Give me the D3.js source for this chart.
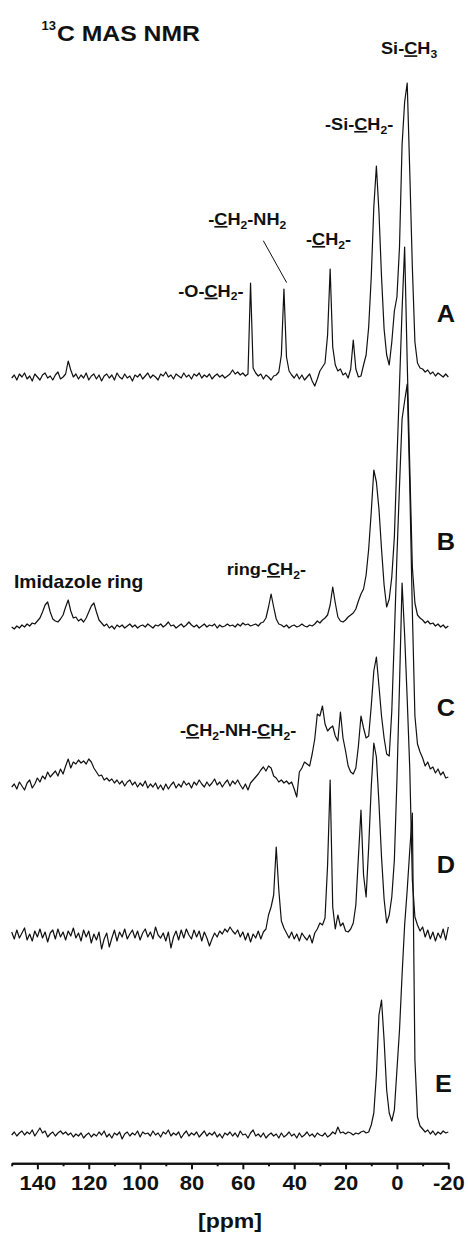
<!DOCTYPE html>
<html>
<head>
<meta charset="utf-8">
<script src="https://cdn.jsdelivr.net/npm/d3@7"></script>
<style>
  html, body { margin: 0; padding: 0; background: #fff; }
  svg { display: block; }
  text { font-family: "Liberation Sans", Arial, sans-serif; font-weight: bold; fill: #111; }
</style>
</head>
<body>
<script>
// Chemical-shift grid (ppm), 1 ppm steps from 150 down to -20
const ppm = d3.range(150, -21, -1);

// Spectrum intensities on the ppm grid (baseline = 0)
const spectrumA = [
  -1, 2, -3, 3, 0, 4, -2, 1, -4, 3,
  0, -3, 2, 4, -1, 1, -3, 2, 5, -2,
  0, 3, 16, 7, 0, 3, -2, 2, -1, 4,
  -3, 1, 3, -2, 2, -4, 1, 3, -1, 2,
  -3, 4, 0, -2, 3, -1, 1, -4, 2, 0,
  3, -2, 1, 4, -1, 2, 0, -3, 3, 1,
  5, 0, 2, -2, 3, 1, -1, 4, 0, 2,
  -2, 3, 1, 4, -1, 2, 0, 3, -2, 1,
  3, 0, 2, -1, 1, 3, 7, 3, 5, 2,
  4, 1, 3, 94, 9, 4, 1, 3, -2, 2,
  0, -3, 1, 2, 5, 22, 88, 20, 6, 2,
  -1, 3, -2, 2, -3, 0, 3, -4, -9, -2,
  6, 10, 14, 42, 108, 30, 12, 6, 8, 2,
  4, -1, 8, 37, 8, 0, 1, 12, 22, 50,
  100, 170, 211, 165, 100, 48, 22, 12, 35, 66,
  80, 130, 232, 275, 294, 205, 110, 35, 14, 9,
  8, 5, 7, 3, 5, 1, 4, 2, 0, 3,
  0
];
const spectrumB = [
  0, -2, 1, -1, 2, 0, 3, 1, 4, 3,
  6, 9, 15, 22, 25, 15, 8, 6, 5, 8,
  12, 20, 27, 16, 9, 10, 6, 8, 5, 9,
  15, 21, 24, 15, 7, 4, 1, 3, -1, 1,
  -2, 2, 0, 2, -1, 1, 3, 0, 2, -1,
  1, 2, 0, 3, 1, -1, 2, 1, 3, 0,
  2, 5, 1, 2, -1, 1, 3, 0, 2, 5,
  2, 0, 2, -1, 1, 3, 0, 2, 1, 3,
  -1, 2, 0, 1, 3, 1, 2, 0, 3, 1,
  4, 2, 3, 1, 2, 3, 1, 4, 5, 9,
  20, 33, 20, 8, 3, 2, 0, 2, -1, 1,
  2, 0, 1, 3, 1, 0, 2, 1, 3, 6,
  4, 7, 9, 12, 22, 40, 24, 10, 6, 5,
  7, 10, 12, 14, 18, 26, 33, 38, 52, 78,
  115, 157, 145, 118, 78, 42, 20, 28, 50, 90,
  167, 242, 317, 380, 265, 160, 60, 24, 12, 9,
  7, 4, 6, 3, 4, 1, 3, 0, 2, -1,
  1
];
const spectrumC = [
  -1, 2, -3, 4, 0, -4, 3, 6, -2, 2,
  8, 4, 10, 7, 14, 9, 12, 15, 10, 17,
  12, 20, 27, 18, 24, 22, 26, 23, 25, 22,
  27, 24, 18, 14, 10, 11, 6, 8, 5, 7,
  3, 6, 2, 5, 0, 4, 6, 1, 4, -1,
  3, 0, 5, -2, 2, -1, 3, -3, 1, -4,
  2, -3, 1, 4, -2, 2, -1, 5, 1, 3,
  -2, 4, 1, 6, 2, -1, 4, 0, 3, 7,
  1, 4, -1, 3, 6, 0, 5, 2, 6, 1,
  -3, 2, -4, 3, 6, 9, 12, 16, 19, 15,
  20, 18, 10, 8, 4, 6, 3, 5, 2, 4,
  -3, -11, 14, 18, 24, 22, 20, 32, 47, 72,
  70, 80, 62, 55, 58, 60, 50, 45, 74, 48,
  35, 20, 14, 12, 18, 40, 70, 58, 48, 50,
  80, 115, 129, 100, 70, 48, 32, 30, 75, 150,
  230, 300, 367, 385, 402, 300, 175, 70, 42, 34,
  28, 20, 24, 17, 19, 13, 17, 11, 14, 8,
  9
];
const spectrumD = [
  3, -4, 5, -3, 2, 7, -5, 1, -6, 4,
  -2, 6, -3, 3, -7, 2, 5, -4, 6, -2,
  3, -5, 4, -1, 7, -3, 2, -6, 5, -2,
  4, -8, 1, -5, 3, -14, -4, 2, -12, -3,
  5, -6, 3, -2, 6, -4, 1, 5, -3, 4,
  -5, 2, 6, -2, 3, -4, 8, 0, -3, 2,
  -6, 3, -13, -2, 4, -5, 5, -3, 6, 0,
  -4, 5, -2, 4, -6, 3, -3, -11, -4, 2,
  -2, 4, 1, 6, 3, 8, 4, 1, 5, -2,
  3, -5, 2, -7, 1, -3, 4, -4, 3, 6,
  20, 28, 40, 88, 45, 14, 7, 2, -3, 3,
  -4, 1, -6, 2, -2, -5, 0, -8, 2, 6,
  12, 10, 17, 70, 155, 28, 6, 20, 9, 12,
  4, 3, 6, 12, 30, 78, 125, 60, 38, 88,
  148, 192, 178, 132, 78, 36, 12, 20, 38, 75,
  155, 250, 352, 300, 236, 166, 55, 18, 10, 4,
  8, -2, 5, -4, 3, -6, 2, -3, 6, -5,
  8
];
const spectrumE = [
  0, 3, -1, 2, 4, 0, 3, 1, 5, -1,
  3, 7, 2, 4, -2, 1, 3, -1, 2, 4,
  1, 3, 0, 2, -2, 1, -1, 2, -3, 0,
  2, -2, 1, -1, 3, 0, 4, -2, 1, -3,
  2, 0, 3, -4, 1, 3, -1, 2, 0, 4,
  -2, 3, 1, 2, -1, 4, 0, 2, -2, 3,
  1, 5, -1, 2, 0, 3, -3, 1, 4, -1,
  2, 0, 3, -2, 1, 4, -1, 2, 0, 3,
  -2, 1, -3, 2, 0, 3, -1, 2, -2, 4,
  0, 1, -3, 2, 5, -1, 1, -2, 2, -3,
  0, 2, -1, 1, -3, 2, -2, 0, 3, -1,
  1, -3, 2, -2, 0, 3, -1, 1, -2, 2,
  0, -1, 2, -2, 0, 3, 1, 8, 2, 3,
  1, 3, 2, 0, 2, 1, 3, 4, 2, 3,
  10, 22, 60, 120, 135, 95, 45, 22, 14, 25,
  65, 105, 160, 210, 245, 285, 322, 75, 18, 9,
  6, 3, 5, 1, 4, 0, 3, 1, 4, 2,
  3
];

const sampleNames = ["A", "B", "C", "D", "E"];
const majorTicks = [140, 120, 100, 80, 60, 40, 20, 0, -20];
const minorTicks = [150, 130, 110, 90, 70, 50, 30, 10, -10];
const axisTitle = "[ppm]";

// ---------- layout ----------
const W = 468, H = 1235;
const series = [spectrumA, spectrumB, spectrumC, spectrumD, spectrumE];
const stackOffset = [758, 508, 349, 200, 0];   // vertical stacking of the traces
const letterBaseline = [321.7, 550, 716, 873, 1091.5];

const svg = d3.select("body").append("svg")
  .attr("width", W).attr("height", H)
  .attr("viewBox", `0 0 ${W} ${H}`);

svg.append("rect").attr("width", W).attr("height", H).attr("fill", "#fff");

const x = d3.scaleLinear().domain([150, -20]).range([11.7, 448.3]);
const y = d3.scaleLinear().domain([0, 1000]).range([1135, 135]);

// ---------- traces ----------
series.forEach((vals, k) => {
  const line = d3.line()
    .x((d, i) => x(ppm[i]))
    .y(d => y(d + stackOffset[k]))
    .curve(d3.curveLinear);
  svg.append("path")
    .datum(vals)
    .attr("fill", "none")
    .attr("stroke", "#111")
    .attr("stroke-width", 1.2)
    .attr("stroke-linejoin", "round")
    .attr("d", line);
});

// ---------- axis ----------
const axisY = 1163.3;
const gMinor = svg.append("g").attr("transform", `translate(0,${axisY})`)
  .call(d3.axisBottom(x).tickValues(minorTicks).tickSize(3).tickSizeOuter(0).tickFormat(""));
const gMajor = svg.append("g").attr("transform", `translate(0,${axisY})`)
  .call(d3.axisBottom(x).tickValues(majorTicks).tickSize(6).tickSizeOuter(0).tickFormat(d => String(d)));

[gMinor, gMajor].forEach(g => {
  g.select(".domain").attr("stroke", "#111").attr("stroke-width", 2);
  g.selectAll(".tick line").attr("stroke", "#111").attr("stroke-width", 2);
});
gMajor.selectAll(".tick text")
  .attr("y", 0).attr("dy", null)
  .attr("transform", "translate(0,26.2) scale(1.1,1)")
  .attr("font-size", 20)
  .attr("font-family", "'Liberation Sans', Arial, sans-serif")
  .attr("font-weight", "bold")
  .attr("fill", "#111");

svg.append("text")
  .attr("transform", `translate(${(x(150) + x(-20)) / 2},1228) scale(1.1,1)`)
  .attr("text-anchor", "middle")
  .attr("font-size", 21)
  .text(axisTitle);

// ---------- sample letters ----------
sampleNames.forEach((s, k) => {
  svg.append("text")
    .attr("transform", `translate(${k === 4 ? 435 : 436.7},${letterBaseline[k]}) scale(1.1,1)`)
    .attr("font-size", 23)
    .text(s);
});

// ---------- title ----------
svg.append("text").attr("x", 41.5).attr("y", 29.5).attr("font-size", 13).text("13");
svg.append("text")
  .attr("transform", "translate(57,40.5) scale(1.1,1)")
  .attr("font-size", 22.5)
  .text("C MAS NMR");

// ---------- peak assignments ----------
// parts: [text, kind] with kind "u" = underlined, "s" = subscript
const assignments = [
  { x: 381, y: 54.3, parts: [["Si-"], ["C", "u"], ["H"], ["3", "s"]] },
  { x: 325, y: 130, parts: [["-Si-"], ["C", "u"], ["H"], ["2", "s"], ["-"]] },
  { x: 208.3, y: 225, parts: [["-"], ["C", "u"], ["H"], ["2", "s"], ["-NH"], ["2", "s"]] },
  { x: 306, y: 245, parts: [["-"], ["C", "u"], ["H"], ["2", "s"], ["-"]] },
  { x: 178.3, y: 296.7, parts: [["-O-"], ["C", "u"], ["H"], ["2", "s"], ["-"]] },
  { x: 14, y: 588.3, parts: [["Imidazole ring"]], size: 17.5 },
  { x: 226.7, y: 575, parts: [["ring-"], ["C", "u"], ["H"], ["2", "s"], ["-"]] },
  { x: 180, y: 736, parts: [["-"], ["C", "u"], ["H"], ["2", "s"], ["-NH-"], ["C", "u"], ["H"], ["2", "s"], ["-"]] }
];

assignments.forEach(a => {
  const t = svg.append("text")
    .attr("transform", `translate(${a.x},${a.y}) scale(1.1,1)`)
    .attr("font-size", a.size || 16.5);
  let shifted = false;
  a.parts.forEach(([str, kind]) => {
    const ts = t.append("tspan").text(str);
    if (kind === "s") {
      ts.attr("font-size", 11).attr("dy", shifted ? 0 : 3.5);
      shifted = true;
    } else {
      if (shifted) { ts.attr("dy", -3.5); shifted = false; }
      if (kind === "u") ts.style("text-decoration", "underline");
    }
  });
});

// leader line for the -CH2-NH2 assignment
svg.append("line")
  .attr("x1", 263.3).attr("y1", 240.7)
  .attr("x2", 286.7).attr("y2", 282.7)
  .attr("stroke", "#111").attr("stroke-width", 1);
</script>
</body>
</html>
